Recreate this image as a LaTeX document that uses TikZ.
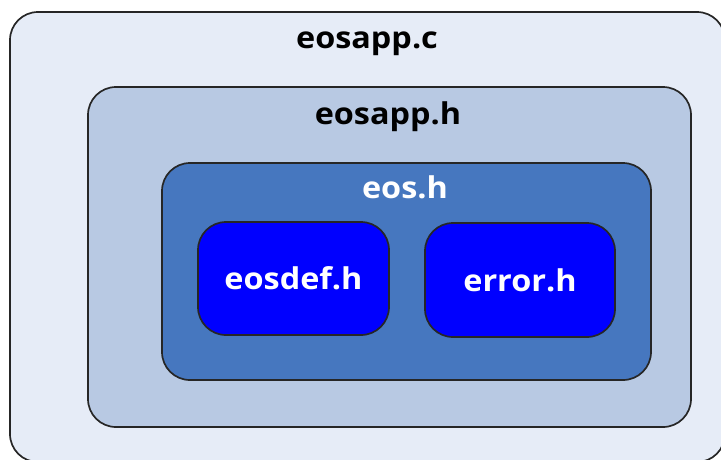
\documentclass[tikz,border=0pt]{standalone}
\usepackage{fontspec}
\setmainfont{Open Sans}[FakeStretch=1.08]
\usetikzlibrary{positioning}

\definecolor{appc}{RGB}{230,236,247}
\definecolor{apph}{RGB}{184,201,227}
\definecolor{eosh}{RGB}{70,119,191}
\definecolor{leaf}{RGB}{0,0,255}

\begin{document}
\begin{tikzpicture}[x=1pt, y=-1pt,
    box/.style={draw=black!85, line width=1.7pt, rounded corners=28pt, rectangle},
    boxtitle/.style={font=\fontsize{30}{36}\selectfont\bfseries, anchor=base}]
    \useasboundingbox (0,0) rectangle (721,459);

    \node[box, fill=appc, minimum width=715pt, minimum height=450pt] (app) at (367.5,237) {};
    \node[box, fill=apph, minimum width=603pt, minimum height=340pt] (hdr) at (389.5,257) {};
    \node[box, fill=eosh, minimum width=489pt, minimum height=217pt] (eos) at (406.5,271.5) {};

    \node[boxtitle] (appname) at (367,48) {eosapp.c};
    \node[boxtitle] (hdrname) at (388,124) {eosapp.h};
    \node[boxtitle, white] (eosname) at (405,198) {eos.h};

    \node[box, fill=leaf, minimum width=191pt, minimum height=113pt, text=white,
          font=\fontsize{30}{36}\selectfont\bfseries] (def) at (293.5,278.5) {eosdef.h};
    \node[box, fill=leaf, minimum width=190pt, minimum height=114pt, text=white,
          font=\fontsize{30}{36}\selectfont\bfseries] (err) at (520,280) {error.h};
\end{tikzpicture}
\end{document}
